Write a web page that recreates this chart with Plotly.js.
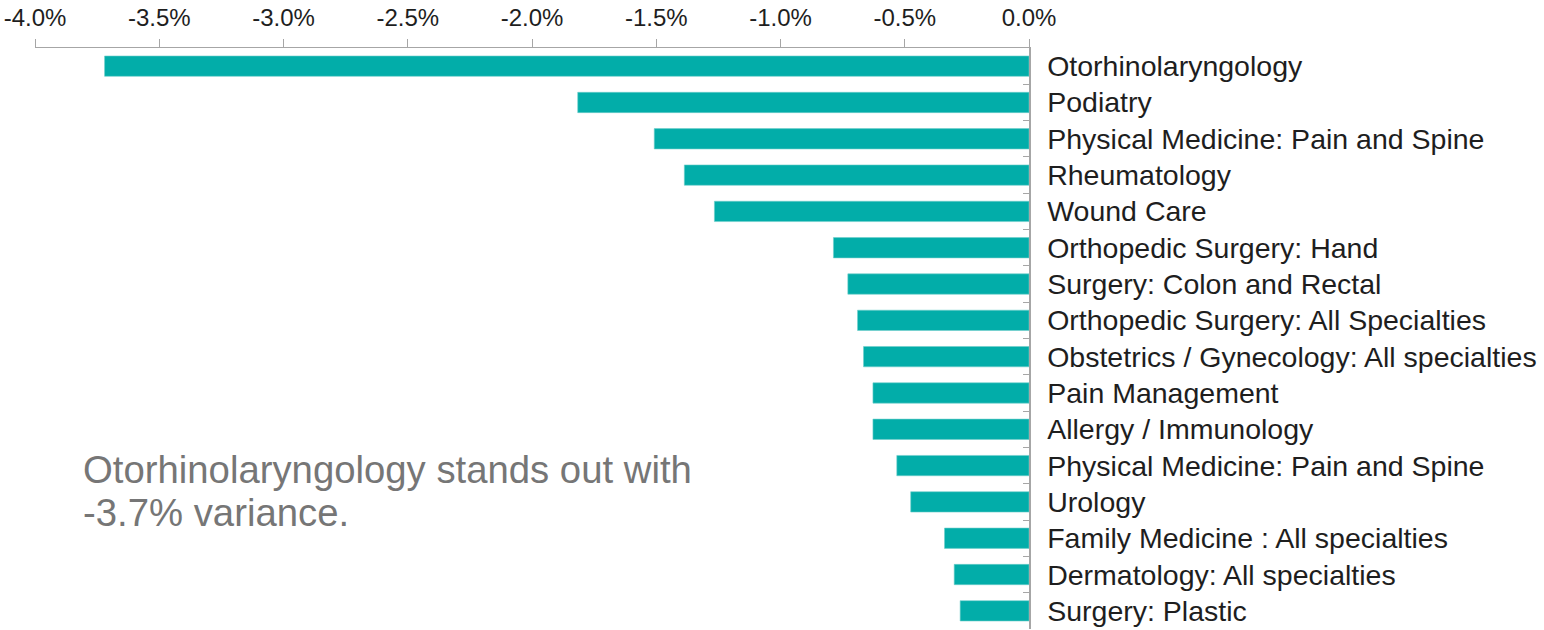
<!DOCTYPE html>
<html>
<head>
<meta charset="utf-8">
<script src="https://cdn.plot.ly/plotly-3.0.1.min.js"></script>
<style>html,body{margin:0;padding:0;background:#fff;}#chart{width:1544px;height:630px;}</style>
</head>
<body>
<div id="chart"></div>
<script>
const specialties = [
  "Otorhinolaryngology",
  "Podiatry",
  "Physical Medicine: Pain and Spine",
  "Rheumatology",
  "Wound Care",
  "Orthopedic Surgery: Hand",
  "Surgery: Colon and Rectal",
  "Orthopedic Surgery: All Specialties",
  "Obstetrics / Gynecology: All specialties",
  "Pain Management",
  "Allergy / Immunology",
  "Physical Medicine: Pain and Spine ",
  "Urology",
  "Family Medicine : All specialties",
  "Dermatology: All specialties",
  "Surgery: Plastic"
];
const variancePct = [-3.72, -1.816, -1.508, -1.387, -1.266, -0.787, -0.729, -0.690, -0.666, -0.628, -0.628, -0.532, -0.476, -0.340, -0.301, -0.277];
const xTickVals = [-4.0, -3.5, -3.0, -2.5, -2.0, -1.5, -1.0, -0.5, 0.0];
const xTickText = ["-4.0%", "-3.5%", "-3.0%", "-2.5%", "-2.0%", "-1.5%", "-1.0%", "-0.5%", "0.0%"];
const noteLines = ["Otorhinolaryngology stands out with", "-3.7% variance."];

const trace = {
  type: "bar",
  orientation: "h",
  x: variancePct,
  y: specialties,
  marker: {color: "#02ADA9", line: {color: "#6FCFCB", width: 0.6}},
  hoverinfo: "x+y"
};

const noteFont = {size: 38.3, color: "#767676", family: "Liberation Sans, Arial, sans-serif"};

const layout = {
  width: 1544,
  height: 630,
  margin: {l: 35, r: 515, t: 48, b: 1},
  paper_bgcolor: "#ffffff",
  plot_bgcolor: "#ffffff",
  showlegend: false,
  bargap: 0.44,
  font: {family: "Liberation Sans, Arial, sans-serif", color: "#1e1e1e"},
  xaxis: {
    side: "top",
    range: [-4.0, 0.0],
    tickvals: xTickVals,
    ticktext: xTickText,
    ticks: "outside",
    ticklen: 8,
    tickwidth: 1,
    tickcolor: "#a6a6a6",
    showline: true,
    linecolor: "#a6a6a6",
    linewidth: 1.5,
    showgrid: false,
    zeroline: false,
    ticklabelstandoff: 3,
    tickfont: {size: 24, color: "#1e1e1e"},
    fixedrange: true
  },
  yaxis: {
    side: "right",
    autorange: "reversed",
    type: "category",
    ticks: "inside",
    tickson: "boundaries",
    ticklen: 6,
    tickcolor: "#a6a6a6",
    showline: true,
    linecolor: "#a6a6a6",
    linewidth: 1.5,
    showgrid: false,
    zeroline: false,
    ticklabelstandoff: 11,
    tickfont: {size: 28.5, color: "#1e1e1e"},
    fixedrange: true
  },
  annotations: [
    {xref: "paper", yref: "paper", x: 0.046, y: 0.2737, xanchor: "left", yanchor: "middle",
     align: "left", showarrow: false, text: noteLines[0], font: noteFont},
    {xref: "paper", yref: "paper", x: 0.046, y: 0.1997, xanchor: "left", yanchor: "middle",
     align: "left", showarrow: false, text: noteLines[1], font: noteFont}
  ]
};

Plotly.newPlot("chart", [trace], layout, {displayModeBar: false, staticPlot: true});
</script>
</body>
</html>
